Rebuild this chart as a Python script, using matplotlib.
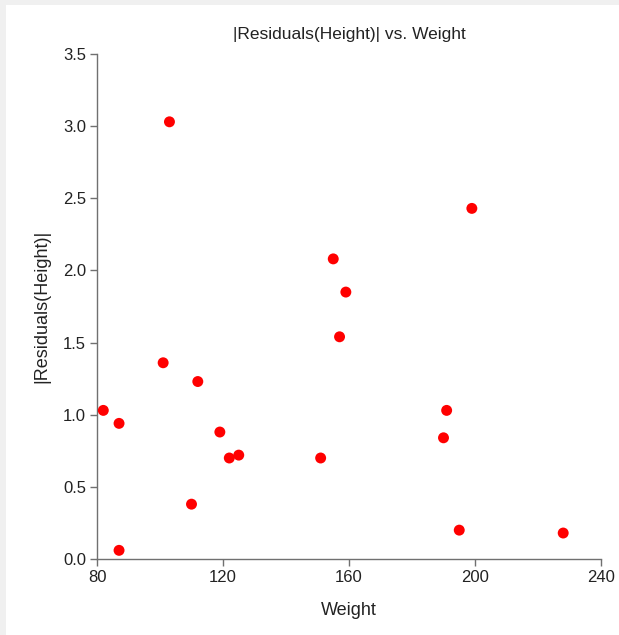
import matplotlib
matplotlib.use("Agg")
import matplotlib.pyplot as plt
from matplotlib.patches import Rectangle

plt.rcParams['font.family'] = ['Liberation Sans', 'DejaVu Sans']

weight = [82, 87, 87, 101, 103, 110, 112, 119, 122, 125,
          151, 155, 157, 159, 190, 191, 195, 199, 228]
abs_resid = [1.03, 0.94, 0.06, 1.36, 3.03, 0.38, 1.23, 0.88, 0.70, 0.72,
             0.70, 2.08, 1.54, 1.85, 0.84, 1.03, 0.20, 2.43, 0.18]

x_ticks = [80, 120, 160, 200, 240]
y_ticks = [0.0, 0.5, 1.0, 1.5, 2.0, 2.5, 3.0, 3.5]

W, H = 619, 635
fig = plt.figure(figsize=(W / 100, H / 100), dpi=100)
fig.patch.set_facecolor('#f0f0f0')
fig.patches.append(Rectangle((6 / W, 0), 1 - 6 / W, 1 - 5 / H,
                             transform=fig.transFigure, facecolor='white',
                             edgecolor='none', zorder=-1))

left, right = 97 / W, 601 / W
bottom, top = 1 - 559 / H, 1 - 54 / H
ax = fig.add_axes([left, bottom, right - left, top - bottom])
ax.set_facecolor('none')

ax.scatter(weight, abs_resid, s=62, color='#ff0000', edgecolors='none',
           zorder=3, clip_on=False)

ax.set_xlim(80, 240)
ax.set_ylim(0, 3.5)
ax.set_xticks(x_ticks)
ax.set_xticklabels([str(t) for t in x_ticks])
ax.set_yticks(y_ticks)
ax.set_yticklabels([f"{t:.1f}" for t in y_ticks])

for side in ('top', 'right'):
    ax.spines[side].set_visible(False)
for side in ('left', 'bottom'):
    ax.spines[side].set_color('#707070')
    ax.spines[side].set_linewidth(1.0)

ax.tick_params(axis='both', direction='out', length=5, width=1.0,
               color='#707070', labelsize=12, labelcolor='#222222', pad=3)

ax.set_xlabel('Weight', fontsize=13, color='#222222', labelpad=12)
ax.set_ylabel('|Residuals(Height)|', fontsize=13, color='#222222', labelpad=9)
ax.set_title('|Residuals(Height)| vs. Weight', fontsize=12.5, color='#222222', pad=11)

fig.savefig('out.png', dpi=100, facecolor=fig.get_facecolor())
